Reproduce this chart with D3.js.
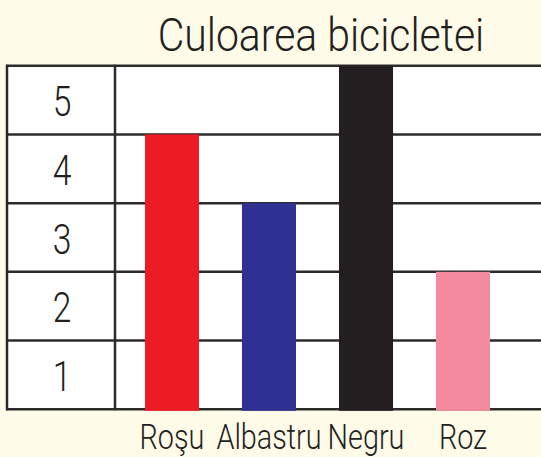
<!DOCTYPE html>
<head>
  <meta charset="utf-8">
  <script src="https://d3js.org/d3.v7.min.js"></script>
  <style>
    body { margin: 0; background: #fffbe9; }
    text {
      font-family: Roboto, sans-serif;
      font-weight: 300;
      fill: #231f20;
    }
    text.title { font-size: 47px; }
    text.rowLabel { font-size: 42px; }
    text.colLabel { font-size: 36px; }
    .grid line { stroke: #2b2b2b; stroke-width: 2.5; }
  </style>
</head>
<body>
  <script>
    var width = 541, height = 457;

    // data
    var categories = ['Roşu', 'Albastru', 'Negru', 'Roz'];
    var values = [4, 3, 5, 2];
    var colours = ['#ed1c24', '#2e3192', '#231f20', '#f48a9e'];
    var rowTicks = [1, 2, 3, 4, 5];

    var squeeze = 0.8; // narrow font look

    var svg = d3.select('body').append('svg')
      .attr('width', width)
      .attr('height', height);

    var y = d3.scaleLinear()
      .domain([0, 5])
      .range([409.3, 65.7]);

    var x = d3.scaleBand()
      .domain(categories)
      .range([123.5, 511.5])
      .paddingInner(0.443)
      .paddingOuter(0.2215);

    var tableLeft = 7, labelCol = 115;

    // white table
    svg.append('rect')
      .attr('x', tableLeft)
      .attr('y', y(5))
      .attr('width', width - tableLeft)
      .attr('height', y(0) - y(5))
      .style('fill', '#fff');

    var grid = svg.append('g').attr('class', 'grid');

    grid.selectAll('line.h')
      .data(d3.range(0, 6))
      .enter()
      .append('line')
      .attr('class', 'h')
      .attr('x1', tableLeft - 1)
      .attr('x2', width)
      .attr('y1', d => y(d))
      .attr('y2', d => y(d));

    grid.selectAll('line.v')
      .data([tableLeft, labelCol])
      .enter()
      .append('line')
      .attr('class', 'v')
      .attr('x1', d => d)
      .attr('x2', d => d)
      .attr('y1', y(5) - 1)
      .attr('y2', y(0) + 1);

    // bars
    svg.selectAll('rect.bar')
      .data(categories)
      .enter()
      .append('rect')
      .attr('class', 'bar')
      .attr('x', d => x(d))
      .attr('width', x.bandwidth())
      .attr('y', (d, i) => y(values[i]))
      .attr('height', (d, i) => y(0) - y(values[i]) + 1.5)
      .style('fill', (d, i) => colours[i]);

    // row numbers
    svg.selectAll('text.rowLabel')
      .data(rowTicks)
      .enter()
      .append('text')
      .attr('class', 'rowLabel')
      .attr('transform', d => `translate(${(tableLeft + labelCol) / 2 + 1}, ${y(d - 0.5) + 16}) scale(${squeeze},1)`)
      .style('text-anchor', 'middle')
      .text(d => d);

    // category labels
    svg.selectAll('text.colLabel')
      .data(categories)
      .enter()
      .append('text')
      .attr('class', 'colLabel')
      .attr('transform', d => `translate(${x(d) + x.bandwidth() / 2}, 449) scale(${squeeze},1)`)
      .style('text-anchor', 'middle')
      .text(d => d);

    svg.append('text')
      .attr('class', 'title')
      .attr('transform', `translate(321, 51) scale(0.87,1)`)
      .style('text-anchor', 'middle')
      .text('Culoarea bicicletei');
  </script>
</body>
